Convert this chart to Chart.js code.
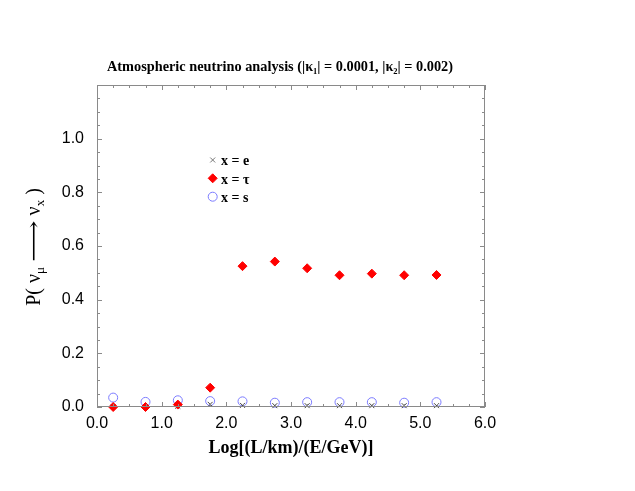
<!DOCTYPE html>
<html><head><meta charset="utf-8">
<script src="https://cdn.jsdelivr.net/npm/chart.js@4.4.0/dist/chart.umd.min.js"></script>
<style>html,body{margin:0;padding:0;background:#fff;}canvas{display:block}</style>
</head><body>
<canvas id="c" width="635" height="491"></canvas>
<script>
// ---- data ----
const xValues  = [0.25, 0.75, 1.25, 1.75, 2.25, 2.75, 3.25, 3.75, 4.25, 4.75, 5.25];
const probE    = [0.002, 0.002, 0.003, 0.010, 0.006, 0.005, 0.005, 0.005, 0.005, 0.005, 0.005];
const probTau  = [0.000, 0.000, 0.009, 0.072, 0.525, 0.542, 0.517, 0.491, 0.497, 0.491, 0.492];
const probS    = [0.035, 0.019, 0.025, 0.022, 0.021, 0.016, 0.018, 0.018, 0.018, 0.016, 0.018];
const seriesLabels = ['x = e', 'x = \u03C4', 'x = s'];
const xTickValues = [0, 1, 2, 3, 4, 5, 6];
const yTickValues = [0, 0.2, 0.4, 0.6, 0.8, 1.0];
const xAxisTitle = 'Log[(L/km)/(E/GeV)]';

const toPts = (xs, ys) => xs.map((x, i) => ({x, y: ys[i]}));

const FRAME = '#8a8a8a';
const SERIF = '"Liberation Serif", "DejaVu Serif", serif';
const SANS = '"Liberation Sans", Arial, sans-serif';

function drawRich(ctx, pieces, cx, baseY) {
  let total = 0;
  pieces.forEach(p => { ctx.font = p.font; p.w = ctx.measureText(p.t).width * (p.sx || 1); total += p.w; });
  let x = cx - total / 2;
  pieces.forEach(p => {
    ctx.font = p.font;
    ctx.save();
    ctx.translate(x, baseY + (p.dy || 0));
    ctx.scale(p.sx || 1, 1);
    ctx.fillText(p.t, 0, 0);
    ctx.restore();
    x += p.w;
  });
}

const decor = {
  id: 'decor',
  afterDraw(chart) {
    const {ctx, chartArea: a, scales} = chart;
    const xs = scales.x, ys = scales.y;
    ctx.save();
    // frame
    ctx.strokeStyle = FRAME; ctx.lineWidth = 1;
    ctx.strokeRect(Math.round(a.left) + 0.5, Math.round(a.top) + 0.5,
                   Math.round(a.right - a.left) - 1, Math.round(a.bottom - a.top) - 1);
    // inward ticks
    ctx.beginPath();
    for (let i = 0; i <= 24; i++) {
      const v = i * 0.05;
      const p = Math.round(ys.getPixelForValue(v)) + 0.5;
      const len = (i % 4 === 0) ? 5 : 3;
      ctx.moveTo(a.left, p); ctx.lineTo(a.left + len, p);
      ctx.moveTo(a.right, p); ctx.lineTo(a.right - len, p);
    }
    for (let i = 0; i <= 24; i++) {
      const v = i * 0.25;
      const p = Math.round(xs.getPixelForValue(v)) + 0.5;
      const len = (i % 4 === 0) ? 5 : 3;
      ctx.moveTo(p, a.bottom); ctx.lineTo(p, a.bottom - len);
      ctx.moveTo(p, a.top); ctx.lineTo(p, a.top + len);
    }
    ctx.stroke();

    // title
    ctx.fillStyle = '#000';
    ctx.textBaseline = 'alphabetic';
    const tf = 'bold 14.3px ' + SERIF, sf = 'bold 8.5px ' + SERIF;
    drawRich(ctx, [
      {t: 'Atmospheric neutrino analysis (|\u03BA', font: tf},
      {t: '1', font: sf, dy: 3},
      {t: '| = 0.0001, |\u03BA', font: tf},
      {t: '2', font: sf, dy: 3},
      {t: '| = 0.002)', font: tf}
    ], 280, 71);

    // y-axis title (rotated)
    ctx.save();
    ctx.translate(40, 247);
    ctx.rotate(-Math.PI / 2);
    const yf = '20px ' + SERIF, ysf = '13px ' + SERIF;
    drawRich(ctx, [
      {t: 'P( ', font: yf},
      {t: '\u03BD', font: yf},
      {t: '\u03BC', font: ysf, dy: 4},
      {t: ' ', font: yf},
      {t: '\u27F6', font: yf, sx: 1.45},
      {t: ' ', font: yf},
      {t: '\u03BD', font: yf},
      {t: 'x', font: ysf, dy: 4},
      {t: ' )', font: yf}
    ], 0, 0);
    ctx.restore();

    // legend
    const ds = chart.data.datasets;
    const rows = [160, 178.3, 196.7];
    const order = [1, 0, 2];
    ctx.font = 'bold 14px ' + SERIF;
    order.forEach((di, r) => {
      const d = ds[di];
      const y = rows[r];
      ctx.fillStyle = d.legendColor || d.backgroundColor;
      ctx.strokeStyle = d.legendColor || d.borderColor;
      ctx.lineWidth = d.borderWidth || 1;
      Chart.helpers.drawPoint(ctx, {pointStyle: d.pointStyle, radius: d.pointRadius, borderWidth: d.borderWidth || 1, rotation: 0}, 212.7, y);
      ctx.fillStyle = '#000';
      ctx.fillText(d.label, 221, y + 5.3);
    });
    ctx.restore();
  }
};

new Chart(document.getElementById('c'), {
  type: 'scatter',
  data: {
    datasets: [
      {label: seriesLabels[1], data: toPts(xValues, probTau), pointStyle: 'rectRot', clip: false,
       pointRadius: 4.5, backgroundColor: '#ff0000', borderColor: '#ff0000', borderWidth: 1, order: 0},
      {label: seriesLabels[0], data: toPts(xValues, probE), pointStyle: 'crossRot', clip: false,
       pointRadius: 3.5, backgroundColor: '#444', borderColor: '#444', legendColor: '#777', borderWidth: 1, order: 1},
      {label: seriesLabels[2], data: toPts(xValues, probS), pointStyle: 'circle', clip: false,
       pointRadius: 4.5, backgroundColor: 'rgba(0,0,0,0)', borderColor: '#7b7bff', borderWidth: 1, order: 2}
    ]
  },
  options: {
    responsive: false,
    animation: false,
    devicePixelRatio: 1,
    layout: {padding: {top: 85, right: 150, left: 0, bottom: 0}},
    plugins: {legend: {display: false}, tooltip: {enabled: false}, title: {display: false}},
    scales: {
      x: {
        type: 'linear', min: 0, max: 6,
        afterBuildTicks: s => { s.ticks = xTickValues.map(v => ({value: v})); },
        afterFit: s => { s.height = 84; },
        ticks: {callback: v => Number(v).toFixed(1), color: '#000', font: {family: SANS, size: 16}, padding: 7, maxRotation: 0},
        grid: {display: false, drawTicks: false},
        border: {display: false},
        title: {display: true, text: xAxisTitle, color: '#000',
                font: {family: SERIF, size: 18, weight: 'bold'}, padding: {top: 0, bottom: 32}}
      },
      y: {
        type: 'linear', min: 0, max: 1.2,
        afterBuildTicks: s => { s.ticks = yTickValues.map(v => ({value: v})); },
        afterFit: s => { s.width = 97; },
        ticks: {callback: v => Number(v).toFixed(1), color: '#000', font: {family: SANS, size: 16}, padding: 13},
        grid: {display: false, drawTicks: false},
        border: {display: false}
      }
    }
  },
  plugins: [decor]
});
</script>
</body></html>
